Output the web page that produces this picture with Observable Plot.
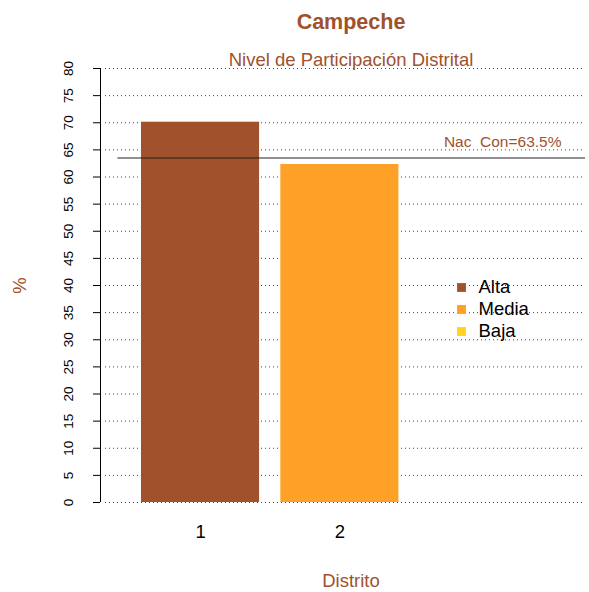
<!DOCTYPE html>
<html><head><meta charset="utf-8">
<script src="https://cdn.jsdelivr.net/npm/d3@7"></script>
<script src="https://cdn.jsdelivr.net/npm/@observablehq/plot@0.6"></script>
<style>body{margin:0;background:#fff}svg{font-family:"Liberation Sans",Arial,sans-serif}</style>
</head><body><div id="chart"></div>
<script>
const distritos = ["1", "2"];
const participacion = [70.1, 62.3];
const barColors = ["#A0522D", "#FFA126"];
const legendLabels = ["Alta", "Media", "Baja"];
const legendColors = ["#A0522D", "#FFA126", "#FFD320"];
const yTicks = d3.range(0, 81, 5);
const nacional = 63.5;
const nacionalLabel = "Nac  Con=63.5%";
const title = "Campeche";
const subtitle = "Nivel de Participación Distrital";
const xLabel = "Distrito";
const yLabel = "%";

const sienna = "#A0522D";
const xMin = -0.147, xMax = 3.96, barSpace = 0.18;
const data = distritos.map((d, i) => ({d, v: participacion[i], x1: 0.2 + (1 + barSpace) * i, x2: 1.2 + (1 + barSpace) * i, c: barColors[i]}));

const legendMarks = legendLabels.flatMap((l, i) => [
  Plot.dot([l], {frameAnchor: "left", dx: 361, dy: 2 + 22 * i, symbol: "square", r: 5, fill: legendColors[i], stroke: null}),
  Plot.text([l], {frameAnchor: "left", dx: 378, dy: 2 + 22 * i, text: d => d, textAnchor: "start", fontSize: 18.5, fill: "black"})
]);

const chart = Plot.plot({
  width: 589, height: 592,
  marginLeft: 100, marginRight: 4, marginTop: 68, marginBottom: 90,
  x: {type: "linear", domain: [xMin, xMax], axis: null},
  y: {type: "linear", domain: [0, 80], axis: null},
  marks: [
    Plot.ruleY(yTicks, {y: d => d, stroke: "#444", strokeWidth: 1, strokeDasharray: "1,3", insetLeft: 5}),
    Plot.rect(data, {x1: "x1", x2: "x2", y1: () => 0, y2: "v", fill: "c"}),
    Plot.ruleY([nacional], {y: d => d, x1: () => 0, x2: () => xMax, stroke: "#222", strokeWidth: 1.2}),
    Plot.text([nacionalLabel], {y: () => nacional, frameAnchor: "right", dx: -24, dy: -16, textAnchor: "end", text: d => d, fill: sienna, fontSize: 15.5}),
    Plot.axisY({ticks: yTicks, tickSize: 7, tickFormat: () => "", stroke: "black", label: null}),
    Plot.ruleX([xMin], {x: d => d, y1: () => 0, y2: () => 80, stroke: "black", strokeWidth: 1}),
    Plot.text(yTicks, {y: d => d, frameAnchor: "left", text: d => String(d), rotate: -90, dx: -32, textAnchor: "middle", fontSize: 13.5, fill: "black"}),
    Plot.text(data, {x: d => (d.x1 + d.x2) / 2, frameAnchor: "bottom", dy: 35, text: "d", fontSize: 18.5, fill: "black"}),
    Plot.text([title], {frameAnchor: "top", dx: 8, dy: -55, text: d => d, fontSize: 21.5, fontWeight: "bold", fill: sienna}),
    Plot.text([subtitle], {frameAnchor: "top", dx: 8, dy: -16, text: d => d, fontSize: 18.5, fill: sienna}),
    Plot.text([xLabel], {frameAnchor: "bottom", dx: 8, dy: 84, text: d => d, fontSize: 18.5, fill: sienna}),
    Plot.text([yLabel], {frameAnchor: "left", dx: -80, rotate: -90, textAnchor: "middle", text: d => d, fontSize: 18.5, fill: sienna}),
    ...legendMarks
  ]
});
document.getElementById("chart").appendChild(chart);
</script></body></html>
